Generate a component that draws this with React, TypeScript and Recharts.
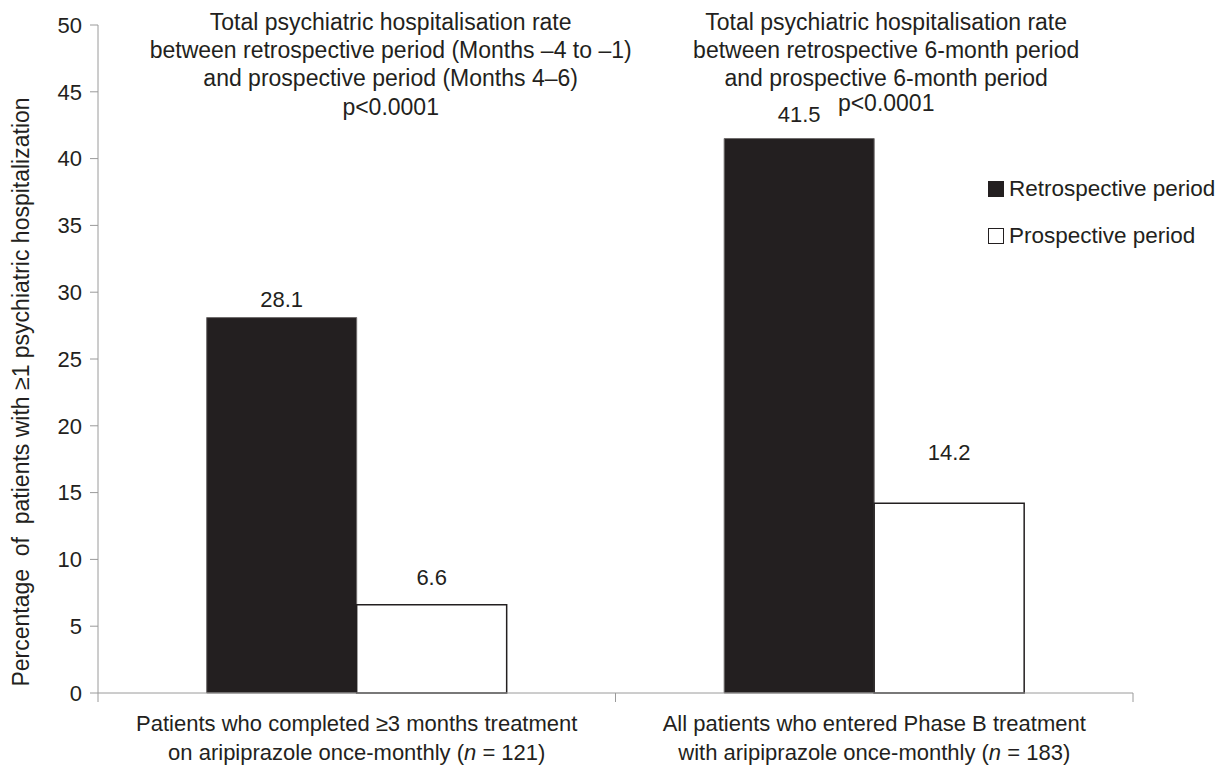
import { BarChart, Bar, XAxis, YAxis, LabelList, Legend } from 'recharts';

const categories = ['Completed ≥3 months', 'Entered Phase B'];
const retrospective = [28.1, 41.5];
const prospective = [6.6, 14.2];
const yTicks = [0, 5, 10, 15, 20, 25, 30, 35, 40, 45, 50];

const catLine1 = [
  'Patients who completed ≥3 months treatment',
  'All patients who entered Phase B treatment',
];
const catLine2 = ['on aripiprazole once-monthly (', 'with aripiprazole once-monthly ('];
const catN = ['121', '183'];

const titleLines = [
  [
    'Total psychiatric hospitalisation rate',
    'between retrospective period (Months –4 to –1)',
    'and prospective period (Months 4–6)',
    'p<0.0001',
  ],
  [
    'Total psychiatric hospitalisation rate',
    'between retrospective 6-month period',
    'and prospective 6-month period',
    'p<0.0001',
  ],
];

const seriesKeys = ['retro', 'pro'];
const seriesNames = ['Retrospective period', 'Prospective period'];
const yLabel = 'Percentage  of  patients with ≥1 psychiatric hospitalization';

const data = categories.map((c, i) => ({
  name: c,
  retro: retrospective[i],
  pro: prospective[i],
}));

const INK = '#231f20';
const AXIS = '#9a9a9a';
const FONT = '"Liberation Sans", Arial, Helvetica, sans-serif';

const W = 1228;
const H = 765;
const PLOT_LEFT = 98;
const PLOT_RIGHT = 1133;
const HALF_BAND = (PLOT_RIGHT - PLOT_LEFT) / categories.length / 2;

// the value labels were hand-placed in the original, so each sits a bit differently
const LABEL_GAP: Record<string, number[]> = { retro: [11, 17], pro: [20, 43] };
const TITLE_DX = [34, 12];

function CategoryTick(props: any) {
  const { x, y, index } = props;
  return (
    <g>
      <line x1={x - HALF_BAND} x2={x - HALF_BAND} y1={y - 8} y2={y + 1} stroke={AXIS} />
      <line x1={x + HALF_BAND} x2={x + HALF_BAND} y1={y - 8} y2={y + 1} stroke={AXIS} />
      <text x={x} y={y + 30} textAnchor="middle" fontSize={22} fill={INK} fontFamily={FONT}>
        {catLine1[index]}
      </text>
      <text x={x} y={y + 59} textAnchor="middle" fontSize={22} fill={INK} fontFamily={FONT}>
        {catLine2[index]}
        <tspan fontStyle="italic">n</tspan>
        {' = ' + catN[index] + ')'}
      </text>
    </g>
  );
}

function GroupTitle(props: any) {
  const { x, width, index } = props;
  const cx = x + width + TITLE_DX[index];
  const rows = [30, 58, 86, index === 1 ? 111 : 115];
  return (
    <g>
      {titleLines[index].map((t, i) => (
        <text key={i} x={cx} y={rows[i]} textAnchor="middle" fontSize={23} fill={INK} fontFamily={FONT}>
          {t}
        </text>
      ))}
    </g>
  );
}

function makeValueLabel(key: string) {
  return function ValueLabel(props: any) {
    const { x, y, width, value, index } = props;
    return (
      <text
        x={x + width / 2}
        y={y - LABEL_GAP[key][index]}
        textAnchor="middle"
        fontSize={22}
        fill={INK}
        fontFamily={FONT}
      >
        {value}
      </text>
    );
  };
}

function YLabel(props: any) {
  const { viewBox } = props;
  const cx = 21;
  const cy = viewBox.y + viewBox.height / 2 + 33;
  return (
    <text
      x={cx}
      y={cy}
      transform={`rotate(-90 ${cx} ${cy})`}
      textAnchor="middle"
      dominantBaseline="central"
      fontSize={23}
      fill={INK}
      fontFamily={FONT}
      style={{ whiteSpace: 'pre' }}
    >
      {yLabel}
    </text>
  );
}

const seriesFill = ['#231f20', '#ffffff'];

function LegendBox(props: any) {
  const items = [...(props.payload || [])].sort(
    (a: any, b: any) => seriesKeys.indexOf(a.dataKey) - seriesKeys.indexOf(b.dataKey)
  );
  return (
    <div style={{ fontFamily: FONT, fontSize: 22.5, color: INK }}>
      {items.map((e: any) => {
        const k = seriesKeys.indexOf(e.dataKey);
        return (
          <div key={e.dataKey} style={{ display: 'flex', alignItems: 'center', height: 47 }}>
            <span
              style={{
                display: 'inline-block',
                width: 16,
                height: 16,
                boxSizing: 'border-box',
                background: seriesFill[k],
                border: `1.5px solid ${INK}`,
                marginRight: 5,
              }}
            />
            <span>{e.value}</span>
          </div>
        );
      })}
    </div>
  );
}

export default function App() {
  return (
    <div style={{ position: 'absolute', left: 0, top: 0, width: W, height: H, background: '#fff' }}>
      <BarChart
        width={W}
        height={H}
        data={data}
        margin={{ top: 25, right: W - PLOT_RIGHT, bottom: 0, left: 0 }}
        barCategoryGap="21%"
        barGap={0}
      >
        <XAxis
          dataKey="name"
          height={72}
          stroke={AXIS}
          tickLine={false}
          tick={<CategoryTick />}
          interval={0}
        />
        <YAxis
          width={PLOT_LEFT}
          domain={[0, 50]}
          ticks={yTicks}
          interval={0}
          stroke={AXIS}
          tickSize={8}
          tickMargin={8}
          tick={{ fill: INK, fontSize: 22, fontFamily: FONT }}
          label={<YLabel />}
        />
        <Legend
          layout="vertical"
          align="center"
          verticalAlign="middle"
          content={<LegendBox />}
          wrapperStyle={{ left: 988, top: 165, width: 240 }}
        />
        <Bar dataKey="retro" name={seriesNames[0]} fill={seriesFill[0]} stroke="#6e6b6b" strokeWidth={1} isAnimationActive={false}>
          <LabelList dataKey="retro" content={makeValueLabel('retro')} />
          <LabelList dataKey="retro" content={<GroupTitle />} />
        </Bar>
        <Bar dataKey="pro" name={seriesNames[1]} fill={seriesFill[1]} stroke={INK} strokeWidth={1.5} isAnimationActive={false}>
          <LabelList dataKey="pro" content={makeValueLabel('pro')} />
        </Bar>
      </BarChart>
    </div>
  );
}
